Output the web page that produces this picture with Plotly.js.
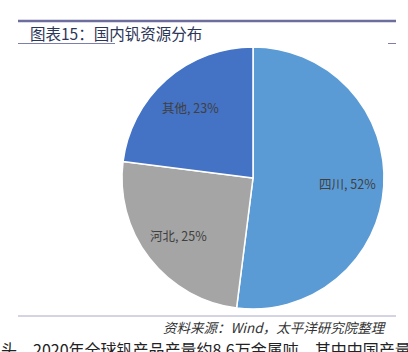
<!DOCTYPE html>
<html>
<head>
<meta charset="utf-8">
<script src="https://cdn.plot.ly/plotly-3.0.1.min.js"></script>
<style>html,body{margin:0;padding:0;background:#fff;}#chart{width:408px;height:352px;}</style>
</head>
<body>
<div id="chart"></div>
<script>
const regions = ['四川', '河北', '其他'];
const shares = [52, 25, 23];
const sliceColors = ['#5B9BD5', '#A5A5A5', '#4472C4'];
const titleText = '图表15：国内钒资源分布';
const sourceText = '资料来源：Wind，太平洋研究院整理';
const bodyText = '头，2020年全球钒产品产量约8.6万金属吨，其中中国产量';

const W = 408, H = 352;
const px = x => x / W;
const py = y => 1 - y / H;
const cjk = '"Noto Sans CJK SC", "Noto Sans", sans-serif';

// pie placement (pixels)
const pieLeft = 122, pieRight = 384, pieTop = 47, pieBottom = 309;
const cxPix = (pieLeft + pieRight) / 2, cyPix = (pieTop + pieBottom) / 2;
const rPix = (pieRight - pieLeft) / 2;
const labelFrac = 0.72;

const trace = {
  type: 'pie',
  labels: regions,
  values: shares,
  sort: false,
  direction: 'clockwise',
  rotation: 0,
  marker: {colors: sliceColors, line: {color: '#ffffff', width: 1.5}},
  textinfo: 'none',
  hoverinfo: 'none',
  domain: {x: [px(pieLeft), px(pieRight)], y: [py(pieBottom), py(pieTop)]}
};

// slice labels placed at each slice's mid angle (derived from the data)
const total = shares.reduce((a, b) => a + b, 0);
let cum = 0;
const labelAnns = shares.map((v, i) => {
  const mid = (cum + v / 2) / total * 2 * Math.PI;
  cum += v;
  const x = cxPix + rPix * labelFrac * Math.sin(mid);
  const y = cyPix - rPix * labelFrac * Math.cos(mid);
  return {text: regions[i] + ', ' + v + '%', xref: 'paper', yref: 'paper', x: px(x), y: py(y),
          xanchor: 'center', yanchor: 'middle', showarrow: false,
          font: {family: cjk, size: 12.5, color: '#404040'}};
});

const layout = {
  width: W, height: H,
  margin: {l: 0, r: 0, t: 0, b: 0},
  paper_bgcolor: '#ffffff',
  showlegend: false,
  shapes: [
    {type: 'line', xref: 'paper', yref: 'paper', x0: px(18), x1: px(396), y0: py(21), y1: py(21), line: {color: '#6E6E9E', width: 2.5}},
    {type: 'line', xref: 'paper', yref: 'paper', x0: px(18), x1: px(115), y0: py(43.5), y1: py(43.5), line: {color: '#7E7EAA', width: 1}},
    {type: 'line', xref: 'paper', yref: 'paper', x0: px(388), x1: px(396), y0: py(43.5), y1: py(43.5), line: {color: '#7E7EAA', width: 1}},
    {type: 'line', xref: 'paper', yref: 'paper', x0: px(18), x1: px(396), y0: py(316), y1: py(316), line: {color: '#A8A8C8', width: 1}}
  ],
  annotations: labelAnns.concat([
    {text: titleText, xref: 'paper', yref: 'paper', x: px(28), y: py(33), xanchor: 'left', yanchor: 'middle', showarrow: false,
     font: {family: cjk, size: 15.5, color: '#2B3557'}},
    {text: sourceText, xref: 'paper', yref: 'paper', x: px(389), y: py(327), xanchor: 'right', yanchor: 'middle', showarrow: false,
     font: {family: cjk, size: 13.5, color: '#333333', style: 'italic'}},
    {text: bodyText, xref: 'paper', yref: 'paper', x: px(-1), y: py(349), xanchor: 'left', yanchor: 'middle', showarrow: false,
     font: {family: cjk, size: 16, color: '#222222'}}
  ])
};

Plotly.newPlot('chart', [trace], layout, {displayModeBar: false, staticPlot: true});
</script>
</body>
</html>
